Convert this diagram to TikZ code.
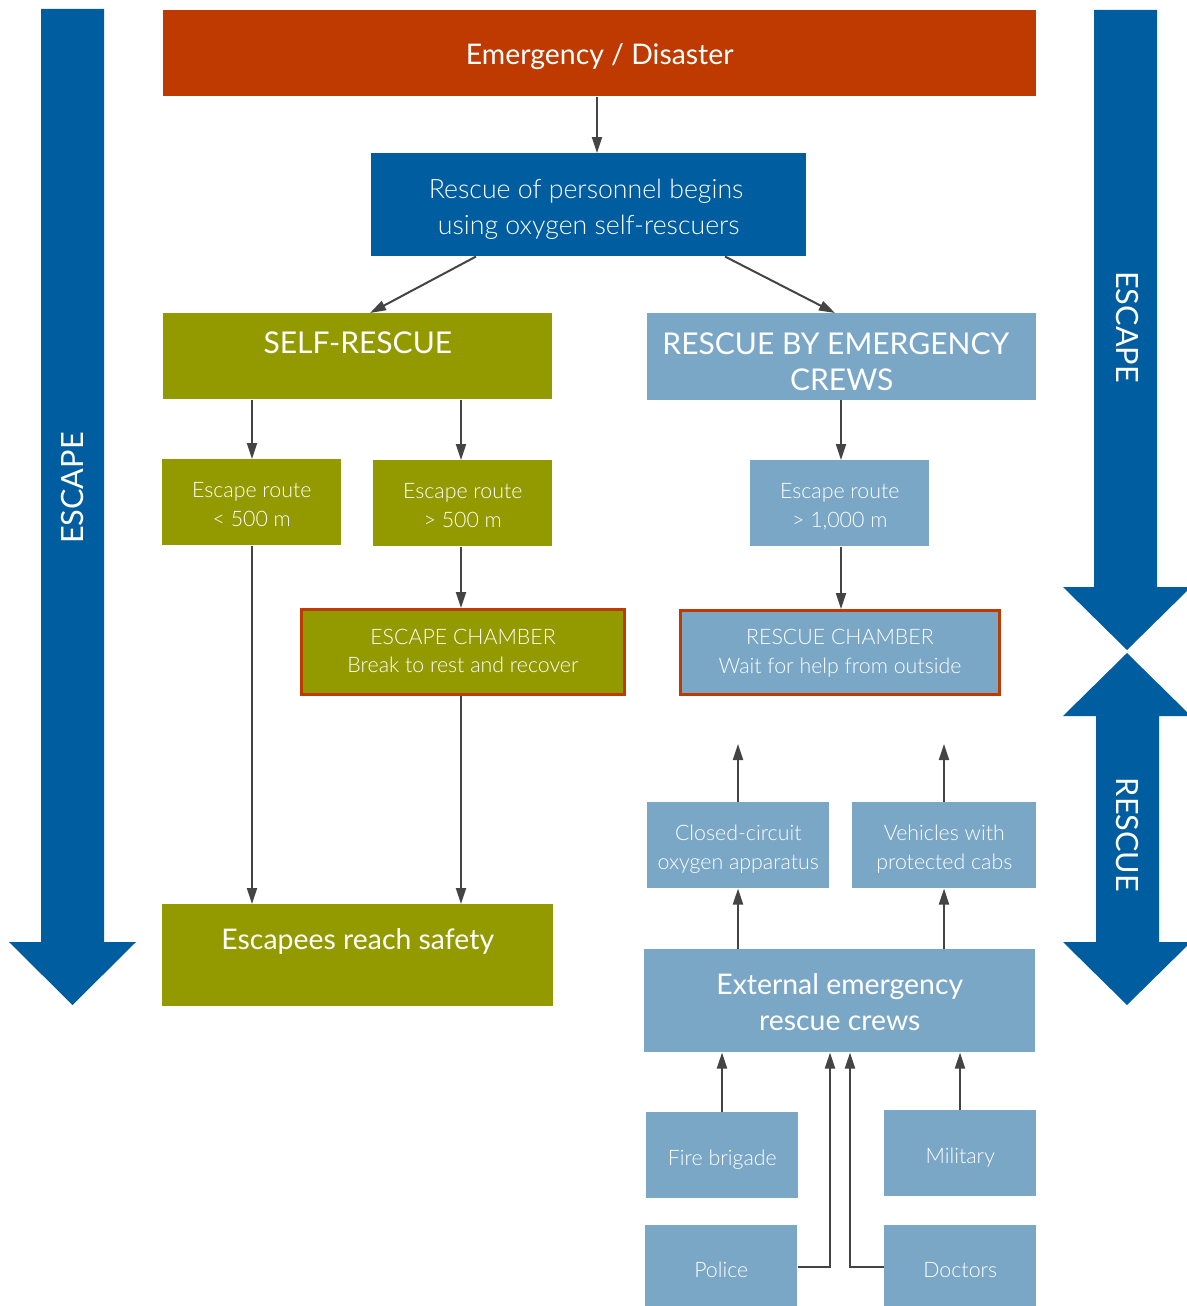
\documentclass[tikz,border=0pt]{standalone}
\usepackage{fontspec}
\setmainfont{Lato}
\newfontfamily\lt{Lato Light}
\usetikzlibrary{arrows.meta}
\definecolor{cOr}{HTML}{BE3A00}
\definecolor{cBl}{HTML}{005DA0}
\definecolor{cOl}{HTML}{939A00}
\definecolor{cLb}{HTML}{7BA7C7}
\definecolor{cGr}{HTML}{444444}
\def\tsA{1.12em}\def\tsD{0.3em}
\newcommand\Ts{\rule{0pt}{\tsA}}
\newcommand\Bs{\rule[-\tsD]{0pt}{0pt}}
\tikzset{
 box/.style={rectangle, inner sep=0pt, anchor=north west, text=white, align=center},
 arr/.style={draw=cGr, line width=1.5pt, -{Triangle[length=12pt,width=7.5pt]}},
 big/.style={font=\fontsize{21.3}{27}\selectfont\def\tsA{1.12em}},
 capsfont/.style={font=\fontsize{22.5}{27}\selectfont\def\tsA{1.12em}},
 mid/.style={font=\lt\fontsize{20}{27}\selectfont\def\tsA{1.18em}},
 sml/.style={font=\lt\fontsize{16}{21.5}\selectfont\def\tsA{1.22em}},
 chsml/.style={font=\lt\fontsize{16}{21.5}\selectfont\def\tsA{0.9em}},
 side/.style={text=white, font=\fontsize{23}{24}\selectfont},
 chamber/.style={draw=cOr, line width=2.25pt},
}
\newcommand\bx[7]{\node[box,minimum width={(#4-#2)*0.75pt},minimum height={(#5-#3)*0.75pt},#6] (#1) at (#2,#3) {\Ts#7\Bs};}
\begin{document}
\begin{tikzpicture}[x=0.75pt,y=-0.75pt]
\path[use as bounding box] (0,0) rectangle (1186,1306);
% big side arrows
\fill[cBl] (41,9) -- (104,9) -- (104,942) -- (136,942) -- (72.5,1005) -- (9,942) -- (41,942) -- cycle;
\fill[cBl] (1094,10) -- (1157,10) -- (1157,587) -- (1191,587) -- (1127,650) -- (1063,587) -- (1094,587) -- cycle;
\fill[cBl] (1127,653) -- (1191,716) -- (1159,716) -- (1159,942) -- (1191,942) -- (1127,1005) -- (1063,942) -- (1096,942) -- (1096,716) -- (1063,716) -- cycle;
\node[side, rotate=90] (escL) at (73,488) {ESCAPE};
\node[side, rotate=-90] (escR) at (1127,327) {ESCAPE};
\node[side, rotate=-90] (resR) at (1127,835) {RESCUE};
% boxes
\bx{emerg}{163}{10}{1036}{96}{fill=cOr,big}{Emergency / Disaster}
\bx{begin}{371}{153}{806}{256}{fill=cBl,mid}{Rescue of personnel begins\hspace*{4pt}\\using oxygen self-rescuers}
\bx{self}{163}{313}{552}{399}{fill=cOl,capsfont}{SELF-RESCUE\\[-5pt]}
\bx{crews}{647}{313}{1036}{399}{fill=cLb,capsfont}{\rule{0pt}{1.39em}RESCUE BY EMERGENCY\hspace*{9pt}\\CREWS}
\bx{er1}{162}{459}{341}{545}{fill=cOl,sml}{Escape route\\< 500 m}
\bx{er2}{373}{460}{552}{546}{fill=cOl,sml}{Escape route\\> 500 m}
\bx{er3}{750}{460}{929}{546}{fill=cLb,sml}{Escape route\\> 1,000 m}
\bx{echam}{300}{608}{626}{696}{fill=cOl,chamber,chsml,minimum width={323*0.75pt},minimum height={85*0.75pt}}{ESCAPE CHAMBER\\Break to rest and recover}
\bx{rcham}{679}{609}{1001}{696}{fill=cLb,chamber,chsml,minimum width={319*0.75pt},minimum height={84*0.75pt}}{RESCUE CHAMBER\\Wait for help from outside}
\bx{cc}{647}{802}{829}{888}{fill=cLb,sml}{Closed-circuit\\oxygen apparatus}
\bx{veh}{852}{802}{1036}{888}{fill=cLb,sml}{Vehicles with\\protected cabs}
\bx{safe}{162}{904}{553}{1006}{fill=cOl,big}{Escapees reach safety\\[-1pt]}
\bx{ext}{644}{949}{1035}{1052}{fill=cLb,big}{External emergency\\rescue crews}
\bx{fire}{646}{1112}{798}{1198}{fill=cLb,sml}{Fire brigade}
\bx{mil}{884}{1110}{1036}{1196}{fill=cLb,sml}{Military}
\bx{pol}{645}{1225}{797}{1310}{fill=cLb,sml}{Police}
\bx{doc}{884}{1225}{1036}{1310}{fill=cLb,sml}{Doctors}
% free ends
\coordinate (ccup) at (738,744);
\coordinate (vehup) at (944,744);
% connectors
\draw[arr] (emerg.south -| 597,0) -- (begin.north -| 597,0);
\draw[arr] (begin.south -| 476,0) -- (self.north -| 370,0);
\draw[arr] (begin.south -| 725,0) -- (crews.north -| 835,0);
\draw[arr] (self.south -| 252,0) -- (er1.north -| 252,0);
\draw[arr] (self.south -| 461,0) -- (er2.north -| 461,0);
\draw[arr] (crews.south -| 841,0) -- (er3.north -| 841,0);
\draw[arr] (er1.south -| 252,0) -- (safe.north -| 252,0);
\draw[arr] (er2.south -| 461,0) -- (echam.north -| 461,0);
\draw[arr] (echam.south -| 461,0) -- (safe.north -| 461,0);
\draw[arr] (er3.south -| 841,0) -- (rcham.north -| 841,0);
\draw[arr] (cc.north -| 738,0) -- (ccup);
\draw[arr] (veh.north -| 944,0) -- (vehup);
\draw[arr] (ext.north -| 738,0) -- (cc.south -| 738,0);
\draw[arr] (ext.north -| 944,0) -- (veh.south -| 944,0);
\draw[arr] (fire.north -| 722,0) -- (ext.south -| 722,0);
\draw[arr] (mil.north -| 960,0) -- (ext.south -| 960,0);
\draw[arr] (pol.east |- 0,1267) -| (ext.south -| 830,0);
\draw[arr] (doc.west |- 0,1267) -| (ext.south -| 850,0);
\end{tikzpicture}
\end{document}
